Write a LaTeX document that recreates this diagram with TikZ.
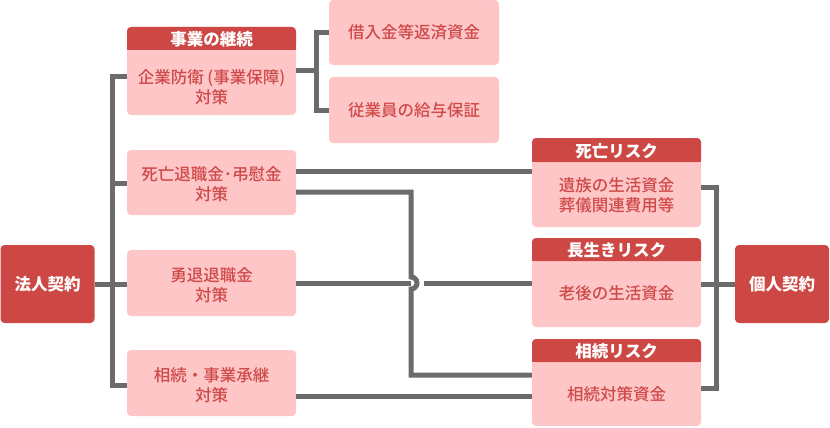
\documentclass[tikz,border=0pt]{standalone}
\usepackage{fontspec}
\newfontfamily\jp{Noto Sans CJK JP}
\newfontfamily\jpm{Noto Sans CJK JP Medium}
\usetikzlibrary{calc}
\definecolor{darkred}{RGB}{205,72,69}
\definecolor{pinkfill}{RGB}{255,198,199}
\definecolor{redtext}{RGB}{207,74,74}
\definecolor{linegray}{RGB}{107,107,107}
\begin{document}
\begin{tikzpicture}[x=1pt,y=-1pt,
  box/.style={fill=pinkfill, rounded corners=4pt, inner sep=0pt, draw=none},
  wbox/.style={box, minimum width=169pt},
  dbox/.style={fill=darkred, rounded corners=4pt, inner sep=0pt, text=white,
     font=\jp\bfseries\fontsize{16.5}{20}\selectfont, minimum width=94pt, minimum height=78pt},
  hdr/.style={fill=darkred, rounded corners=4pt, inner sep=0pt, text=white,
     font=\jp\bfseries\fontsize{16}{20}\selectfont, minimum width=169pt, minimum height=23pt, anchor=north},
  hdrtxt/.style={text=white, inner sep=0pt, font=\jp\bfseries\fontsize{16.5}{20}\selectfont},
  body/.style={text=redtext, align=center, inner sep=0pt, font=\jpm\fontsize{16.5}{20}\selectfont},
  conn/.style={draw=linegray, line width=5pt}]
\useasboundingbox (0,0) rectangle (830,428);

% left side boxes
\node[dbox] (houjin) at (47.5,284) {法人契約};
\node[wbox, minimum height=88pt] (b1) at (211.5,71) {};
\node[hdr] (h1) at (b1.north) {};
\fill[darkred] (h1.west) rectangle (h1.south east);
\node[hdrtxt] (h1t) at (211.5,39) {事業の継続};
\node[body] (t1) at (211.5,87) {企業防衛 (事業保障)\\対策};

\node[box, minimum width=170pt, minimum height=65pt] (r1) at (414,32.5) {};
\node[body] (tr1) at (414,32) {借入金等返済資金};
\node[box, minimum width=170pt, minimum height=66pt] (r2) at (414,110) {};
\node[body] (tr2) at (414,110) {従業員の給与保証};

\node[wbox, minimum height=65pt] (b2) at (211.5,182.5) {};
\node[body] (t2) at (211.5,184) {死亡退職金･弔慰金\\対策};
\node[wbox, minimum height=66pt] (b3) at (211.5,283) {};
\node[body] (t3) at (211.5,285) {勇退退職金\\対策};
\node[wbox, minimum height=66pt] (b4) at (211.5,383) {};
\node[body] (t4) at (211.5,385) {相続・事業承継\\対策};

% right side boxes
\node[wbox, minimum height=89pt] (d1) at (616.5,182.5) {};
\node[hdr, minimum height=24pt] (dh1) at (d1.north) {};
\fill[darkred] (dh1.west) rectangle (dh1.south east);
\node[hdrtxt] (dh1t) at (616.5,151) {死亡リスク};
\node[body] (td1) at (616.5,195) {遺族の生活資金\\葬儀関連費用等};

\node[wbox, minimum height=89pt] (d2) at (616.5,282.5) {};
\node[hdr] (dh2) at (d2.north) {};
\fill[darkred] (dh2.west) rectangle (dh2.south east);
\node[hdrtxt] (dh2t) at (616.5,250) {長生きリスク};
\node[body] (td2) at (616.5,293) {老後の生活資金};

\node[wbox, minimum height=87pt] (d3) at (616.5,382.5) {};
\node[hdr] (dh3) at (d3.north) {};
\fill[darkred] (dh3.west) rectangle (dh3.south east);
\node[hdrtxt] (dh3t) at (616.5,351) {相続リスク};
\node[body] (td3) at (616.5,394) {相続対策資金};

\node[dbox] (kojin) at (782,284) {個人契約};

% left trunk
\coordinate (trunk) at (112,284);
\draw[conn] (houjin.east) -- (trunk);
\draw[conn] (b1.west |- 0,77) -| (trunk) |- (b4.west |- 0,385);
\draw[conn] (trunk |- 0,183) -- (b2.west |- 0,183);
\draw[conn] (trunk) -- (b3.west |- trunk);

% b1 bracket
\coordinate (br1) at (316,71);
\draw[conn] (b1.east |- br1) -- (br1);
\draw[conn] (r1.west) -| (br1) |- (r2.west);

% middle connectors
\draw[conn] (b2.east |- 0,171) -- (d1.west |- 0,171);
\draw[conn] (b2.east |- 0,192) -| (411,277) arc[start angle=-90, end angle=90, radius=6] -- (411,375) -- (d3.west |- 0,375);
\draw[conn] (b3.east |- 0,283) -- (411,283);
\draw[conn] (424,283) -- (d2.west |- 0,283);
\draw[conn] (b4.east |- 0,396) -- (d3.west |- 0,396);

% right bracket
\coordinate (br2) at (716,284);
\draw[conn] (d1.east |- 0,187) -| (br2) |- (d3.east |- 0,388);
\draw[conn] (d2.east |- br2) -- (kojin.west);
\end{tikzpicture}
\end{document}
